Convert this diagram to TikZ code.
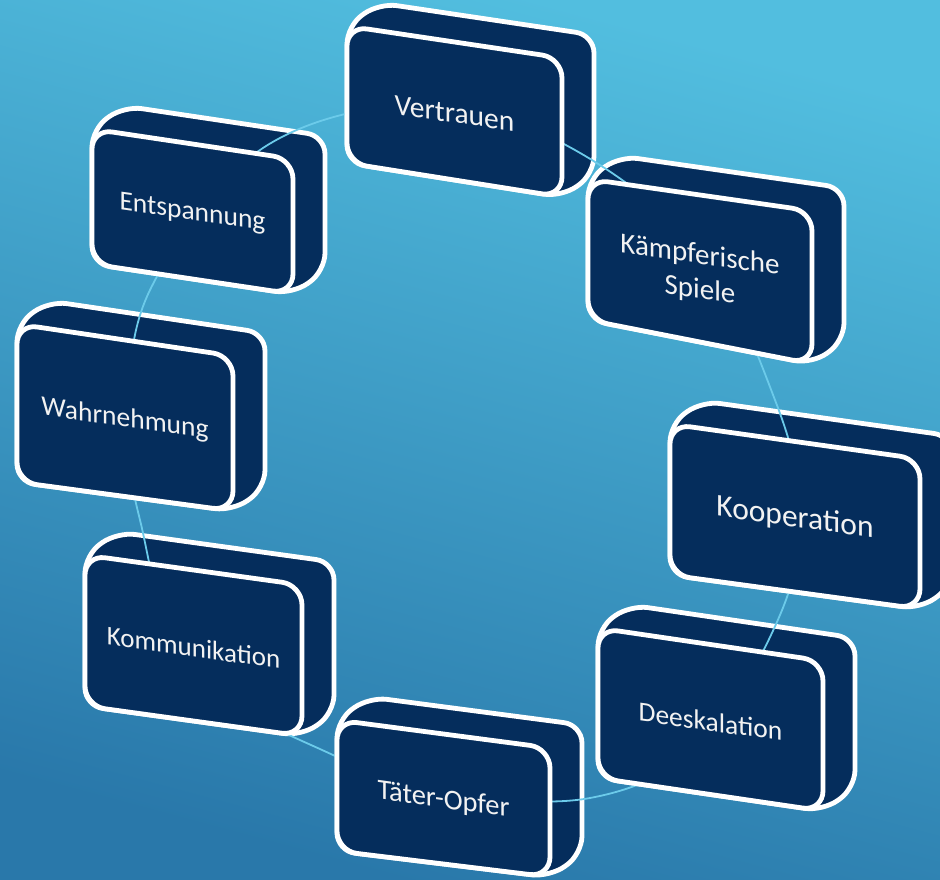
\documentclass[tikz,border=0pt]{standalone}
\usepackage{fontspec}
\setmainfont{Carlito}
\usetikzlibrary{calc}
\definecolor{boxnavy}{HTML}{052D5C}
\definecolor{bgtop}{HTML}{52BEDF}
\definecolor{bgbot}{HTML}{2978AA}
\definecolor{ringc}{HTML}{6CCBEA}
\tikzset{
  boxedge/.style={draw=white, line width=4.8pt, fill=boxnavy, line join=round},
  backsil/.style={boxedge, rounded corners=18pt},
  frontface/.style={boxedge, rounded corners=20pt},
  lbl/.style={text=white!95!black, align=center, yslant=-0.14, inner sep=0pt},
  ringline/.style={draw=ringc, line width=1.8pt}
}
% #1 name, #2 TL, #3 TR, #4 BR, #5 BL (front face corners, image px)
\newcommand{\DefBox}[5]{%
  \coordinate (#1tl) at (#2);
  \coordinate (#1tr) at (#3);
  \coordinate (#1br) at (#4);
  \coordinate (#1bl) at (#5);
  \coordinate (#1btl) at ($(#1tl)+(32,-23)$);
  \coordinate (#1btr) at ($(#1tr)+(32,-23)$);
  \coordinate (#1bbr) at ($(#1br)+(32,-23)$);
}
\newcommand{\BackBox}[1]{%
  \draw[backsil] (#1tl) -- (#1btl) -- (#1btr) -- (#1bbr) -- (#1br) -- (#1bl) -- cycle;
}
\newcommand{\FrontBox}[3]{% name, font size, text
  \draw[frontface] (#1tl) -- (#1tr) -- (#1br) -- (#1bl) -- cycle;
  \node[lbl, font=\fontsize{#2}{35}\selectfont] (#1txt) at ($(#1tl)!0.5!(#1br)+(0,2)$) {#3};
}
\begin{document}
\begin{tikzpicture}[x=1pt,y=-1pt]
\clip (0,0) rectangle (940,880);
\shade[top color=bgtop, bottom color=bgbot, shading angle=-15] (0,0) rectangle (940,880);

\DefBox{V}{347,26}{562,58}{562,197}{347,163}
\DefBox{K}{588,179}{812,211}{812,364}{588,320}
\DefBox{Ko}{670,424}{920,459}{920,609}{670,575}
\DefBox{D}{598,628}{823,661}{823,811}{598,778}
\DefBox{T}{337,720}{550,748}{550,877}{337,851}
\DefBox{Km}{85,555}{302,585}{302,736}{85,706}
\DefBox{W}{17,324}{233,356}{233,511}{17,482}
\DefBox{E}{92,129}{293,159}{293,294}{92,264}

\foreach \b in {V,K,Ko,D,T,Km,W,E} {\BackBox{\b}}

\draw[ringline] plot[smooth cycle, tension=0.6] coordinates {
  (128,420) (150,290) (260,150) (420,104) (562,143) (700,250) (775,400)
  (800,510) (780,615) (700,745) (590,798) (450,792) (333,755) (190,670) (140,520)};

\FrontBox{V}{29.5}{Vertrauen}
\FrontBox{K}{29}{Kämpferische\\Spiele}
\FrontBox{Ko}{31.5}{Kooperation}
\FrontBox{D}{27.5}{Deeskalation}
\FrontBox{T}{28.5}{Täter-Opfer}
\FrontBox{Km}{27}{Kommunikation}
\FrontBox{W}{27.5}{Wahrnehmung}
\FrontBox{E}{27.5}{Entspannung}
\end{tikzpicture}
\end{document}
